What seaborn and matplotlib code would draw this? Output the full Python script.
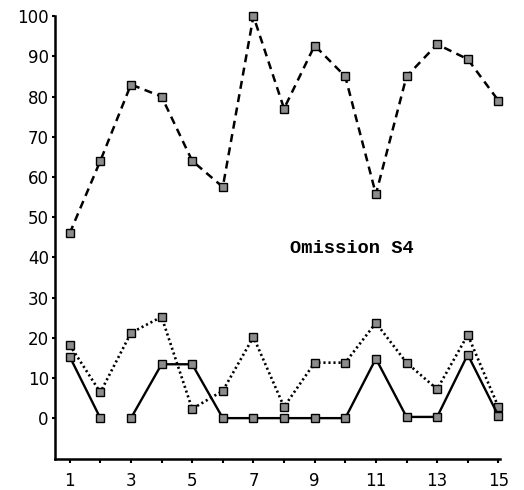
import numpy as np
import pandas as pd
import matplotlib
matplotlib.use("Agg")
import matplotlib.pyplot as plt
import seaborn as sns

# ---- data ----
trials = list(range(1, 16))
dashed_vals = [46, 64, 83, 80, 64, 57.5, 100, 77, 92.7, 85, 55.7, 85, 93, 89.3, 79]
dotted_vals = [18.2, 6.4, 21.2, 25.2, 2.3, 6.8, 20.2, 2.8, 13.8, 13.8, 23.7, 13.8, 7.2, 20.7, 2.8]
solid_vals = [15.3, 0, 0, 13.4, 13.4, 0, 0, 0, 0, 0, 14.8, 0.3, 0.3, 15.8, 0.6]
solid_segment = [0, 0, 1, 1, 1, 1, 1, 1, 1, 1, 1, 1, 1, 1, 1]  # line broken between trial 2 and 3

y_ticks = list(range(0, 101, 10))
x_tick_labels = [str(t) if t % 2 == 1 else "" for t in trials]
label_text = "Omission S4"

sns.set_style("ticks")
plt.rcParams["font.family"] = ["DejaVu Sans"]
plt.rcParams["text.color"] = "black"

fig = plt.figure(figsize=(5.24, 4.90), dpi=100)
ax = fig.add_axes([0.105, 0.063, 0.849, 0.904])

marker_kw = dict(marker="s", markersize=5.2, markerfacecolor="#8c8c8c",
                 markeredgecolor="black", markeredgewidth=1.0, clip_on=False)

sns.lineplot(x=trials, y=dashed_vals, ax=ax, color="black", linewidth=1.8,
             linestyle=(0, (3.2, 2.2)), **marker_kw)
sns.lineplot(x=trials, y=dotted_vals, ax=ax, color="black", linewidth=1.9,
             linestyle=(0, (0.8, 1.1)), **marker_kw)

solid_df = pd.DataFrame({"trial": trials, "value": solid_vals, "seg": solid_segment})
sns.lineplot(data=solid_df, x="trial", y="value", units="seg", estimator=None, ax=ax,
             color="black", linewidth=1.7, **marker_kw)

ax.text(10.23, 42.3, label_text, fontfamily="Liberation Mono", fontweight="bold",
        fontsize=13.5, ha="center", va="center", color="black")

ax.set_xlim(0.52, 15.05)
ax.set_ylim(-10.2, 100)
ax.set_xticks(trials)
ax.set_xticklabels(x_tick_labels)
ax.set_yticks(y_ticks)
ax.set_xlabel("")
ax.set_ylabel("")
ax.tick_params(axis="both", direction="out", width=1.5, color="black",
               labelsize=12, labelcolor="black")
ax.tick_params(axis="x", length=3, pad=6)
ax.tick_params(axis="y", length=2.5, pad=2)
sns.despine(ax=ax)
for s in ("left", "bottom"):
    ax.spines[s].set_linewidth(1.8)
    ax.spines[s].set_color("black")

fig.savefig("out.png", dpi=100)
